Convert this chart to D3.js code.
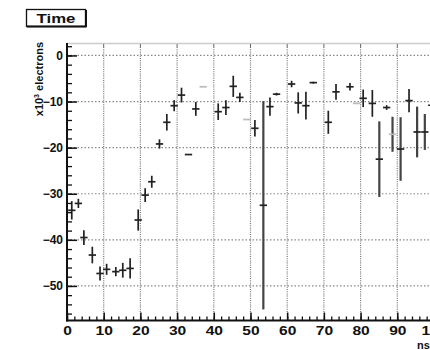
<!DOCTYPE html>
<html><head><meta charset="utf-8">
<script src="https://cdn.jsdelivr.net/npm/d3@7"></script>
<style>body{margin:0;background:#fff;} text{font-family:"Liberation Sans",Arial,sans-serif;}</style>
</head><body><svg id="c" width="430" height="350"></svg>
<script>
// ---- data ----
const timeNs = [1.3, 3.1, 4.6, 6.9, 9.0, 10.8, 13.3, 15.2, 17.2, 19.4, 21.3, 23.1, 25.2, 27.2, 29.2, 31.2, 33.1, 35.1, 37.1,
  41.2, 43.3, 45.3, 47.1, 49.0, 51.2, 53.5, 55.3, 57.1, 61.2, 63.0, 65.1, 67.1, 71.2, 73.3, 77.1, 78.9, 80.7, 83.2,
  85.1, 87.1, 88.7, 90.9, 93.2, 95.4, 97.5, 99.4];
const electronsK = [-33.6, -32.1, -39.5, -43.3, -47.3, -46.4, -46.9, -46.6, -46.2, -35.7, -30.3, -27.4, -19.2, -14.5, -10.9, -8.6, -21.5, -11.6, -6.8,
  -12.2, -11.3, -6.7, -9.1, -13.9, -15.8, -32.5, -11.1, -8.4, -6.2, -10.3, -10.9, -5.9, -14.5, -7.9, -6.8, -10.4, -9.3, -10.4,
  -22.5, -11.3, -17.1, -20.3, -9.8, -16.6, -16.6, -10.8];
const errK = [2.0, 1.0, 1.6, 1.8, 1.5, 1.2, 1.0, 1.6, 2.2, 2.3, 1.5, 1.3, 1.0, 1.8, 1.2, 1.6, 0, 1.5, 0,
  1.8, 1.6, 2.3, 1.0, 0, 1.8, 22.6, 2.0, 0.3, 0.7, 2.3, 3.0, 0.2, 2.5, 1.7, 0.8, 0, 1.9, 2.9,
  8.2, 0.5, 3.8, 6.9, 2.5, 5.5, 3.9, 0.5];
const faded = [0,0,0,0,0,0,0,0,0,0,0,0,0,0,0,0,0,0,1,
  0,0,0,0,1,0,0,0,0,0,0,0,0,0,0,0,1,0,0,
  0,0,1,0,0,0,0,0];
const binHalfWidth = 1;
const xMajor = [0,10,20,30,40,50,60,70,80,90,100];
const yMajor = [-50,-40,-30,-20,-10,0];
const titleText = "Time";
const xTitle = "ns";

// ---- drawing ----
const svg = d3.select("#c");
svg.append("rect").attr("width",430).attr("height",350).attr("fill","#fff");

const x = d3.scaleLinear().domain([0,100]).range([67,434]);
const y = d3.scaleLinear().domain([-57.5,2.7]).range([320.5,43]);
const L = 67, R = 440, T = 43, B = 320.5;

// top frame line
svg.append("line").attr("x1",L).attr("x2",R).attr("y1",T+0.5).attr("y2",T+0.5)
  .attr("stroke","#ccc").attr("stroke-width",1.5);
svg.append("g").selectAll("line").data(xMajor).join("line")
  .attr("x1",d=>x(d)).attr("x2",d=>x(d)).attr("y1",T+1).attr("y2",T+4)
  .attr("stroke","#666").attr("stroke-width",1);

// grid
svg.append("g").selectAll("line").data(xMajor.filter(d=>d>0)).join("line")
  .attr("x1",d=>x(d)).attr("x2",d=>x(d)).attr("y1",T+4).attr("y2",B)
  .attr("stroke","#777").attr("stroke-width",1.2).attr("stroke-dasharray","1,1.2");
svg.append("g").selectAll("line").data(yMajor).join("line")
  .attr("x1",L).attr("x2",R).attr("y1",d=>y(d)).attr("y2",d=>y(d))
  .attr("stroke","#888").attr("stroke-width",1.2).attr("stroke-dasharray","1.5,2");

// data: error crosses
const pts = timeNs.map((t,i)=>({t, v:electronsK[i], e:errK[i], f:faded[i]}));
const gp = svg.append("g");
gp.selectAll("line.v").data(pts.filter(p=>p.e>0)).join("line").attr("class","v")
  .attr("x1",p=>x(p.t)).attr("x2",p=>x(p.t))
  .attr("y1",p=>y(p.v+p.e)).attr("y2",p=>y(p.v-p.e))
  .attr("stroke",p=>p.e>3?"#444":"#222").attr("stroke-width",p=>p.e>3?2.2:1.7);
gp.selectAll("line.h").data(pts).join("line").attr("class","h")
  .attr("x1",p=>x(p.t-binHalfWidth)).attr("x2",p=>x(p.t+binHalfWidth))
  .attr("y1",p=>y(p.v)).attr("y2",p=>y(p.v))
  .attr("stroke",p=>p.f?"#bbb":"#222").attr("stroke-width",1.7);

// axes
const yMinor = d3.range(-56, 3, 2);
const xMinor = d3.range(0, 101, 2);
svg.append("g").attr("transform",`translate(${L},0)`)
  .call(d3.axisLeft(y).tickValues(yMinor).tickSize(-5).tickFormat(""))
  .call(g=>g.select(".domain").remove())
  .selectAll("line").attr("stroke","#111").attr("stroke-width",1.3);
svg.append("g").attr("transform",`translate(0,${B})`)
  .call(d3.axisBottom(x).tickValues(xMinor).tickSize(-4).tickFormat(""))
  .call(g=>g.select(".domain").remove())
  .selectAll("line").attr("stroke","#111").attr("stroke-width",1.3);

const ya = svg.append("g").attr("transform",`translate(${L},0)`)
  .call(d3.axisLeft(y).tickValues(yMajor).tickSize(-10).tickPadding(4).tickFormat(d3.format("d")));
ya.select(".domain").remove();
ya.selectAll("line").attr("stroke","#111").attr("stroke-width",1.5);
ya.selectAll("text").attr("font-size",12).attr("font-weight","bold").attr("fill","#111")
  .attr("font-family","Liberation Sans, Arial, sans-serif");

const xa = svg.append("g").attr("transform",`translate(0,${B})`)
  .call(d3.axisBottom(x).tickValues(xMajor).tickSize(-8).tickPadding(6).tickFormat(d3.format("d")));
xa.select(".domain").remove();
xa.selectAll("line").attr("stroke","#111").attr("stroke-width",1.5);
xa.selectAll("text").attr("font-size",12).attr("font-weight","bold").attr("fill","#111")
  .attr("font-family","Liberation Sans, Arial, sans-serif")
  .attr("transform","scale(1.3,1)");

// axis lines
svg.append("line").attr("x1",L).attr("x2",L).attr("y1",T).attr("y2",B+1)
  .attr("stroke","#111").attr("stroke-width",2);
svg.append("line").attr("x1",L-1).attr("x2",R).attr("y1",B).attr("y2",B)
  .attr("stroke","#111").attr("stroke-width",2);

// y title
const yt = svg.append("text").attr("transform","translate(43,42) rotate(-90)")
  .attr("text-anchor","end").attr("font-size",11).attr("font-weight","bold").attr("fill","#111");
yt.append("tspan").text("x10");
yt.append("tspan").attr("font-size",7).attr("dy",-4).text("3");
yt.append("tspan").attr("dy",4).text(" electrons");

// x title (clipped at right)
svg.append("text").attr("x",417).attr("y",349).attr("font-size",11).attr("font-weight","bold")
  .attr("fill","#111").text(xTitle);

// title box
svg.append("rect").attr("x",26.5).attr("y",9.5).attr("width",59).attr("height",17)
  .attr("fill","#fff").attr("stroke","#111").attr("stroke-width",1.3);
svg.append("line").attr("x1",27).attr("x2",86.5).attr("y1",26.5).attr("y2",26.5).attr("stroke","#111").attr("stroke-width",2);
svg.append("line").attr("x1",86).attr("x2",86).attr("y1",10).attr("y2",27).attr("stroke","#111").attr("stroke-width",2);
svg.append("text").attr("transform","translate(56,22.5) scale(1.4,1)").attr("text-anchor","middle")
  .attr("font-size",12).attr("font-weight","bold").attr("fill","#111").text(titleText);
</script></body></html>
